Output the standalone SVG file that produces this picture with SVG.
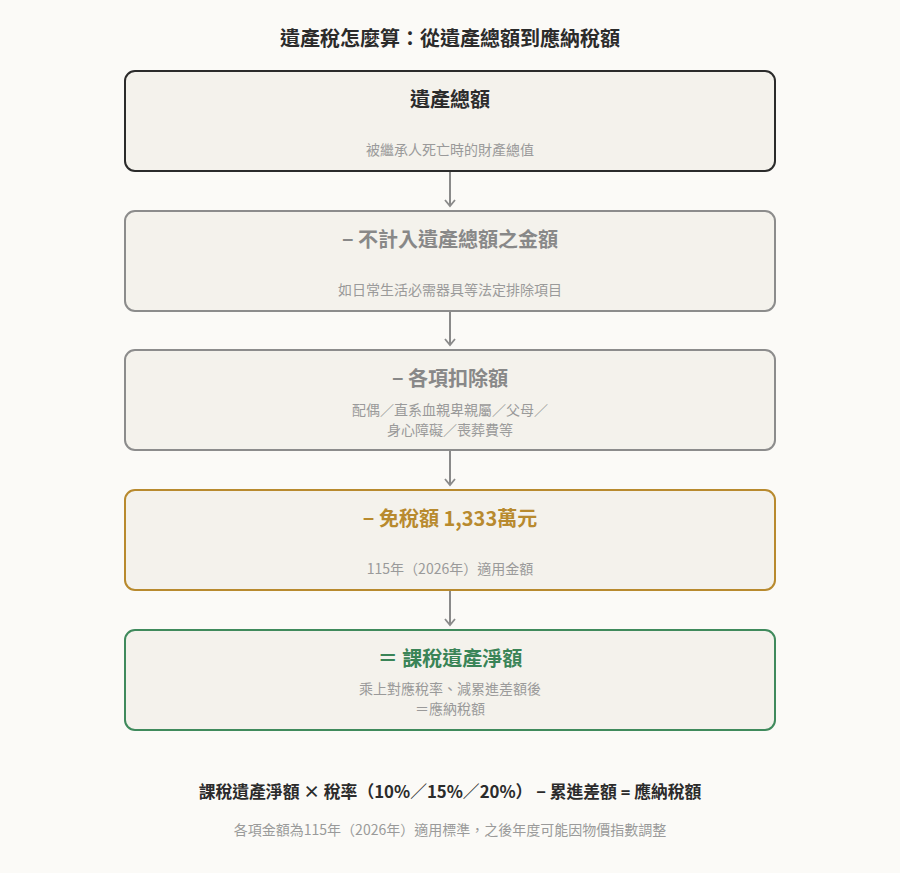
<svg xmlns="http://www.w3.org/2000/svg" width="900" height="873" viewBox="0 0 900 873">
<defs>
<marker id="arr" viewBox="0 0 12 12" refX="10" refY="6" markerWidth="12" markerHeight="12" markerUnits="userSpaceOnUse" orient="auto">
<path d="M4,1 L10,6 L4,11" fill="none" stroke="#8a8a8a" stroke-width="1.8"/>
</marker>
<style>
text{font-family:"Noto Sans CJK TC","Noto Sans CJK SC",sans-serif;text-anchor:middle}
.box{fill:#f4f2ec;stroke-width:2}
.t{font-size:20px;font-weight:bold}
.s{font-size:14px;fill:#9a9a9a}
.c{stroke:#8a8a8a;stroke-width:2;fill:none}
.m{font-family:"Noto Sans",sans-serif}
</style>
</defs>
<rect width="900" height="873" fill="#fbfaf7"/>
<text x="450" y="46" class="t" fill="#2b2b2b">遺產稅怎麼算：從遺產總額到應納稅額</text>
<g id="node1">
<rect class="box" x="125" y="71" width="650" height="100" rx="10" stroke="#2b2b2b"/>
<text x="450" y="107" class="t" fill="#2b2b2b">遺產總額</text>
<text x="450" y="155" class="s">被繼承人死亡時的財產總值</text>
</g>
<g id="node2">
<rect class="box" x="125" y="211" width="650" height="100" rx="10" stroke="#8c8c8c"/>
<text x="450" y="247" class="t" fill="#888888"><tspan class="m">−</tspan> 不計入遺產總額之金額</text>
<text x="450" y="295" class="s">如日常生活必需器具等法定排除項目</text>
</g>
<g id="node3">
<rect class="box" x="125" y="350" width="650" height="100" rx="10" stroke="#8c8c8c"/>
<text x="450" y="386" class="t" fill="#888888"><tspan class="m">−</tspan> 各項扣除額</text>
<text x="450" y="415" class="s">配偶／直系血親卑親屬／父母／</text>
<text x="450" y="435" class="s">身心障礙／喪葬費等</text>
</g>
<g id="node4">
<rect class="box" x="125" y="490" width="650" height="100" rx="10" stroke="#b88a2e"/>
<text x="450" y="526" class="t" fill="#b88a2e"><tspan class="m">−</tspan> 免稅額 1,333萬元</text>
<text x="450" y="574" class="s">115年（2026年）適用金額</text>
</g>
<g id="node5">
<rect class="box" x="125" y="630" width="650" height="100" rx="10" stroke="#3f8a5c"/>
<text x="450" y="666" class="t" fill="#3a8457">＝ 課稅遺產淨額</text>
<text x="450" y="694" class="s">乘上對應稅率、減累進差額後</text>
<text x="450" y="714" class="s">＝應納稅額</text>
</g>
<g id="connectors">
<line class="c" x1="450" y1="172" x2="450" y2="206" marker-end="url(#arr)"/>
<line class="c" x1="450" y1="312" x2="450" y2="345" marker-end="url(#arr)"/>
<line class="c" x1="450" y1="451" x2="450" y2="485" marker-end="url(#arr)"/>
<line class="c" x1="450" y1="591" x2="450" y2="625" marker-end="url(#arr)"/>
</g>
<text x="450" y="798" style="font-size:16.8px;font-weight:bold" fill="#2b2b2b">課稅遺產淨額 × 稅率（10%／15%／20%） <tspan class="m">−</tspan> 累進差額 <tspan class="m">=</tspan> 應納稅額</text>
<text x="450" y="835" class="s">各項金額為115年（2026年）適用標準，之後年度可能因物價指數調整</text>
</svg>
